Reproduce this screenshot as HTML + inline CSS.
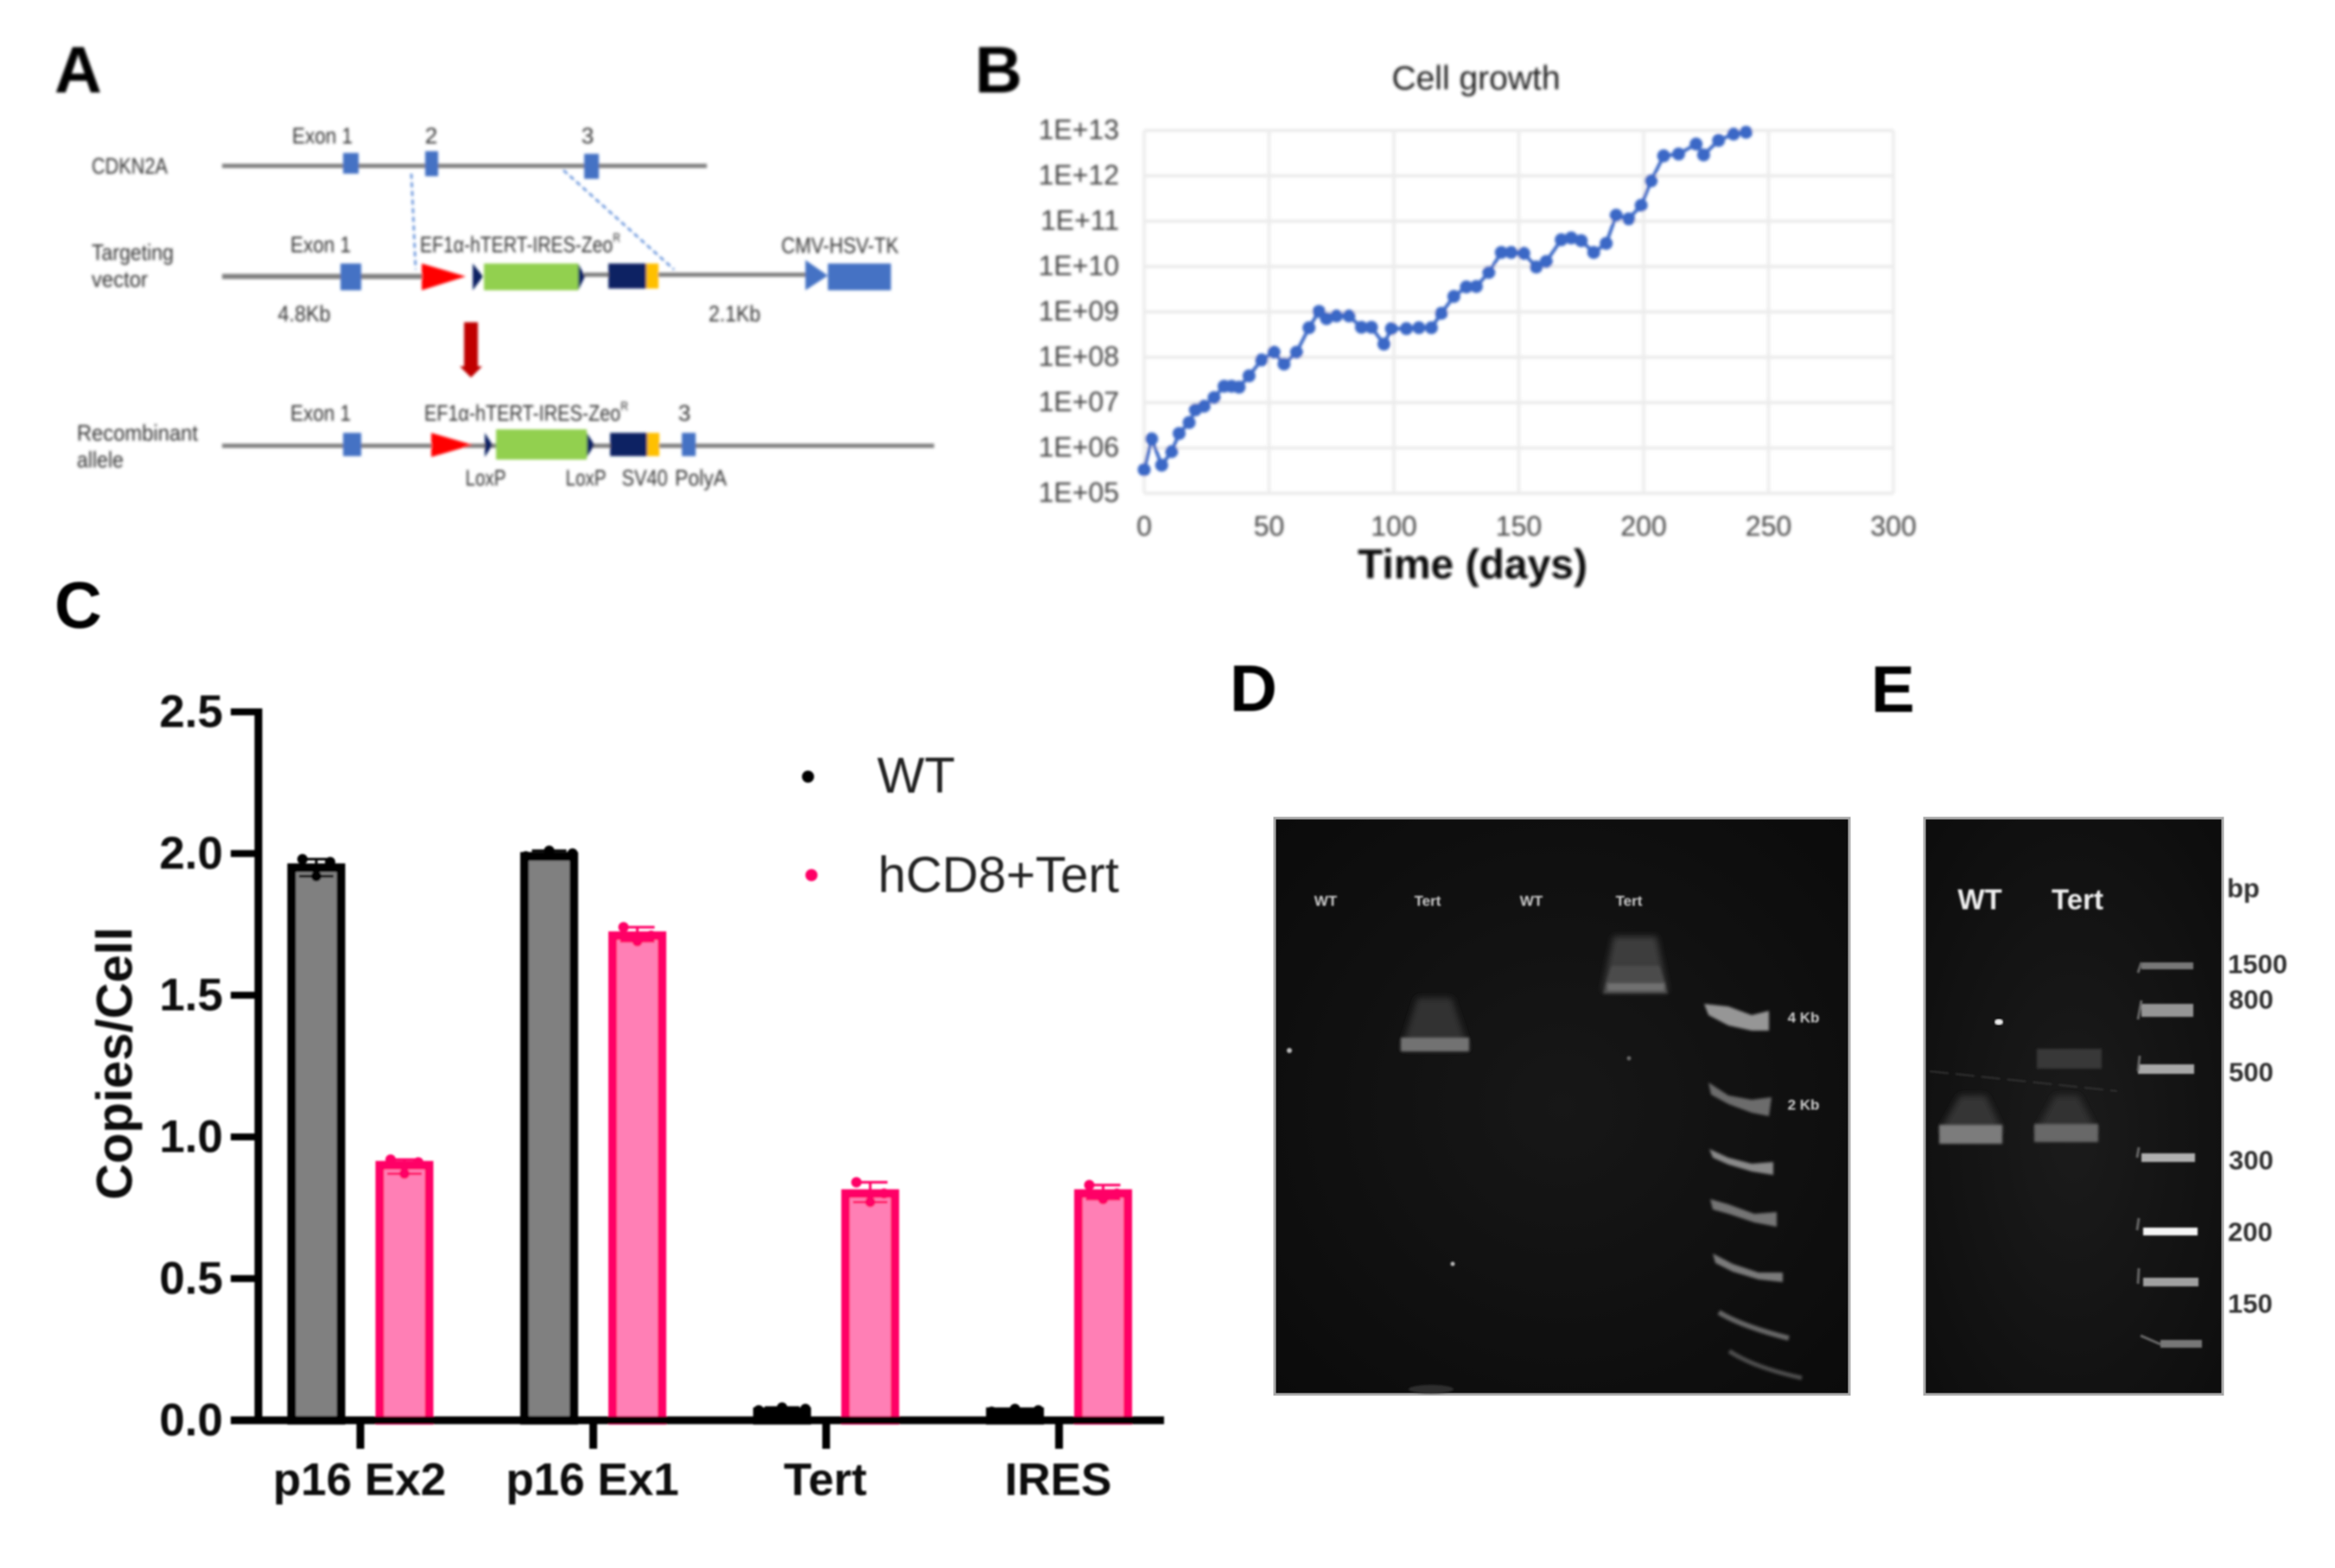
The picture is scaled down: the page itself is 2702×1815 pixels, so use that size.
<!DOCTYPE html>
<html lang="en">
<head>
<meta charset="utf-8">
<title>Figure panels A to E</title>
<style>
html,body{margin:0;padding:0;background:#fff;width:2702px;height:1815px;overflow:hidden}
svg{display:block}
text{font-family:"Liberation Sans",sans-serif}
.letter{font-size:76px;font-weight:700;fill:#000}
.a-lbl{font-size:26px;fill:#333;text-anchor:middle;dominant-baseline:central}
.a-lbl-l{font-size:26px;fill:#333;text-anchor:start;dominant-baseline:central}
.b-tick{font-size:32px;fill:#444;dominant-baseline:central}
.c-tick{font-size:53px;font-weight:700;fill:#111;dominant-baseline:central}
.gel-d{font-size:17px;font-weight:700;fill:#ccc;text-anchor:middle;dominant-baseline:central}
.gel-e{font-size:33px;font-weight:700;fill:#eee;text-anchor:middle;dominant-baseline:central}
.e-lbl{font-size:31px;font-weight:700;fill:#333;dominant-baseline:central}
</style>
</head>
<body>
<svg id="fig" xmlns="http://www.w3.org/2000/svg" width="2702" height="1815" viewBox="0 0 2702 1815">
<defs>
<filter id="soft" x="-5%" y="-5%" width="110%" height="110%"><feGaussianBlur stdDeviation="1.5"/></filter>
<filter id="softer" x="-5%" y="-5%" width="110%" height="110%"><feGaussianBlur stdDeviation="1"/></filter>
<filter id="bandblur" x="-20%" y="-40%" width="140%" height="180%"><feGaussianBlur stdDeviation="1.7"/></filter>
<filter id="smearblur" x="-20%" y="-40%" width="140%" height="180%"><feGaussianBlur stdDeviation="4"/></filter>
<radialGradient id="gelD" cx="50%" cy="50%" r="70%"><stop offset="0" stop-color="#171717"/><stop offset="1" stop-color="#0b0b0b"/></radialGradient>
<radialGradient id="gelE" cx="50%" cy="55%" r="70%"><stop offset="0" stop-color="#1b1b1b"/><stop offset="1" stop-color="#0d0d0d"/></radialGradient>
</defs>
<rect width="2702" height="1815" fill="#fff"/>

<g filter="url(#soft)">
  <text class="letter" x="63" y="107">A</text>
  <text class="a-lbl-l" x="106" y="192" textLength="88" lengthAdjust="spacingAndGlyphs">CDKN2A</text>
  <line x1="257" y1="192" x2="818" y2="192" stroke="#808080" stroke-width="5"/>
  <rect x="397" y="177" width="18" height="24" fill="#4472c4"/>
  <rect x="492" y="175" width="15" height="29" fill="#4472c4"/>
  <rect x="676" y="178" width="17" height="29" fill="#4472c4"/>
  <text class="a-lbl" x="373" y="157" textLength="70" lengthAdjust="spacingAndGlyphs">Exon 1</text>
  <text class="a-lbl" x="499" y="157">2</text>
  <text class="a-lbl" x="680" y="157">3</text>
  <line x1="476" y1="201" x2="481" y2="312" stroke="#5b8bd8" stroke-width="2.5" stroke-dasharray="6 4"/>
  <line x1="652" y1="197" x2="780" y2="312" stroke="#5b8bd8" stroke-width="2.5" stroke-dasharray="6 4"/>

  <text class="a-lbl-l" x="106" y="292" textLength="95" lengthAdjust="spacingAndGlyphs">Targeting</text>
  <text class="a-lbl-l" x="106" y="323" textLength="65" lengthAdjust="spacingAndGlyphs">vector</text>
  <line x1="257" y1="320" x2="500" y2="320" stroke="#808080" stroke-width="6"/>
  <line x1="676" y1="318" x2="934" y2="318" stroke="#808080" stroke-width="5"/>
  <rect x="394" y="305" width="24" height="31" fill="#4472c4"/>
  <polygon points="488,305 539,320 488,336" fill="#ff0000"/>
  <polygon points="547,305 559,320 547,336" fill="#0b2463"/>
  <rect x="560" y="305" width="109" height="31" fill="#92d050"/>
  <polygon points="669,305 677,320 669,336" fill="#0b2463"/>
  <rect x="704" y="305" width="44" height="29" fill="#0b2463"/>
  <rect x="748" y="305" width="14" height="29" fill="#ffc000"/>
  <polygon points="932,301 958,319 932,336" fill="#4472c4"/>
  <rect x="958" y="305" width="73" height="31" fill="#4472c4"/>
  <text class="a-lbl" x="371" y="283" textLength="70" lengthAdjust="spacingAndGlyphs">Exon 1</text>
  <text class="a-lbl" x="602" y="283" textLength="232" lengthAdjust="spacingAndGlyphs">EF1α-hTERT-IRES-Zeo<tspan font-size="15" dy="-8">R</tspan></text>
  <text class="a-lbl" x="972" y="284" textLength="136" lengthAdjust="spacingAndGlyphs">CMV-HSV-TK</text>
  <text class="a-lbl" x="352" y="363" textLength="61" lengthAdjust="spacingAndGlyphs">4.8Kb</text>
  <text class="a-lbl" x="850" y="363" textLength="60" lengthAdjust="spacingAndGlyphs">2.1Kb</text>

  <polygon points="537,373 553,373 553,424 558,424 545,437 532,424 537,424" fill="#c00000"/>

  <text class="a-lbl-l" x="89" y="501" textLength="140" lengthAdjust="spacingAndGlyphs">Recombinant</text>
  <text class="a-lbl-l" x="89" y="532" textLength="54" lengthAdjust="spacingAndGlyphs">allele</text>
  <line x1="257" y1="516" x2="1081" y2="516" stroke="#808080" stroke-width="5"/>
  <rect x="397" y="501" width="21" height="27" fill="#4472c4"/>
  <polygon points="499,501 547,515 499,529" fill="#ff0000"/>
  <polygon points="561,501 570,515 561,529" fill="#0b2463"/>
  <rect x="574" y="497" width="105" height="35" fill="#92d050"/>
  <polygon points="679,501 688,515 679,529" fill="#0b2463"/>
  <rect x="706" y="501" width="43" height="27" fill="#0b2463"/>
  <rect x="749" y="501" width="14" height="27" fill="#ffc000"/>
  <rect x="789" y="501" width="16" height="27" fill="#4472c4"/>
  <text class="a-lbl" x="371" y="478" textLength="70" lengthAdjust="spacingAndGlyphs">Exon 1</text>
  <text class="a-lbl" x="609" y="478" textLength="236" lengthAdjust="spacingAndGlyphs">EF1α-hTERT-IRES-Zeo<tspan font-size="15" dy="-8">R</tspan></text>
  <text class="a-lbl" x="792" y="478">3</text>
  <text class="a-lbl" x="562" y="553" textLength="47" lengthAdjust="spacingAndGlyphs">LoxP</text>
  <text class="a-lbl" x="678" y="553" textLength="47" lengthAdjust="spacingAndGlyphs">LoxP</text>
  <text class="a-lbl" x="746" y="553" textLength="53" lengthAdjust="spacingAndGlyphs">SV40</text>
  <text class="a-lbl" x="811" y="553" textLength="60" lengthAdjust="spacingAndGlyphs">PolyA</text>
</g>

<g id="panelB" filter="url(#soft)">
  <text class="letter" x="1128" y="107">B</text>
  <text x="1708" y="91" text-anchor="middle" dominant-baseline="central" font-size="39" fill="#222">Cell growth</text>
  <text x="1704" y="654" text-anchor="middle" dominant-baseline="central" font-size="48" font-weight="700" fill="#111">Time (days)</text>
</g>

<g id="panelC" filter="url(#softer)">
  <text class="letter" x="63" y="727">C</text>
  <text transform="translate(133 1231) rotate(-90)" text-anchor="middle" dominant-baseline="central" font-size="58" font-weight="700" fill="#111">Copies/Cell</text>
</g>

<g>
  <text class="letter" x="1423" y="823" filter="url(#softer)">D</text>
  <rect x="1475" y="947" width="665" height="667" fill="url(#gelD)" stroke="#a8a8a8" stroke-width="3"/>
  <g filter="url(#softer)">
    <text class="gel-d" x="1534" y="1043">WT</text>
    <text class="gel-d" x="1652" y="1043">Tert</text>
    <text class="gel-d" x="1772" y="1043">WT</text>
    <text class="gel-d" x="1885" y="1043">Tert</text>
    <text class="gel-d" x="2087" y="1178">4 Kb</text>
    <text class="gel-d" x="2087" y="1279">2 Kb</text>
  </g>
  <polygon points="1621,1215 1640,1155 1680,1155 1700,1215" fill="#333" filter="url(#smearblur)"/>
  <rect x="1621" y="1201" width="79" height="16" fill="#727272" filter="url(#bandblur)"/>
  <polygon points="1854,1148 1867,1084 1917,1084 1930,1148" fill="#3e3e3e" filter="url(#smearblur)"/>
  <polygon points="1855,1150 1865,1118 1920,1118 1930,1150" fill="#4c4c4c" filter="url(#bandblur)"/>
  <rect x="1860" y="1138" width="66" height="9" fill="#707070" filter="url(#bandblur)"/>
  <g filter="url(#bandblur)">
    <polygon points="1972,1162 2000,1165 2027,1175 2047,1170 2047,1193 2027,1193 2000,1187 1977,1175" fill="#969696"/>
    <polygon points="1977,1253 2000,1268 2027,1273 2050,1270 2047,1292 2027,1288 2000,1278 1980,1267" fill="#6c6c6c"/>
    <polygon points="1978,1330 2000,1340 2027,1347 2052,1345 2052,1360 2027,1356 2000,1348 1982,1340" fill="#8a8a8a"/>
    <polygon points="1979,1388 2000,1394 2030,1405 2056,1403 2056,1420 2030,1415 2000,1405 1982,1400" fill="#747474"/>
    <polygon points="1982,1451 2005,1463 2035,1473 2063,1473 2063,1484 2035,1481 2005,1472 1985,1462" fill="#7a7a7a"/>
    <path d="M1989 1519 Q2015 1535 2070 1549" fill="none" stroke="#666" stroke-width="6"/>
    <path d="M2001 1564 Q2030 1583 2085 1595" fill="none" stroke="#4e4e4e" stroke-width="5"/>
  </g>
  <g fill="#bbb" filter="url(#softer)">
    <circle cx="1492" cy="1216" r="3"/>
    <circle cx="1681" cy="1463" r="2.5"/>
    <circle cx="1885" cy="1225" r="2.5" fill="#666"/>
    <ellipse cx="1656" cy="1608" rx="26" ry="5" fill="#2e2e2e"/>
  </g>
</g>

<g>
  <text class="letter" x="2165" y="824" filter="url(#softer)">E</text>
  <rect x="2227" y="947" width="345" height="667" fill="url(#gelE)" stroke="#a8a8a8" stroke-width="3"/>
  <text class="gel-e" x="2291" y="1041" filter="url(#softer)">WT</text>
  <text class="gel-e" x="2404" y="1041" filter="url(#softer)">Tert</text>
  <polygon points="2244,1310 2268,1268 2298,1268 2318,1310" fill="#343434" filter="url(#smearblur)"/>
  <rect x="2244" y="1302" width="73" height="22" fill="#7c7c7c" filter="url(#bandblur)"/>
  <polygon points="2355,1310 2378,1268 2405,1268 2427,1310" fill="#303030" filter="url(#smearblur)"/>
  <rect x="2354" y="1301" width="74" height="21" fill="#686868" filter="url(#bandblur)"/>
  <rect x="2357" y="1214" width="75" height="23" fill="#383838" filter="url(#bandblur)"/>
  <line x1="2233" y1="1240" x2="2450" y2="1263" stroke="#333" stroke-width="2" stroke-dasharray="22 8" filter="url(#softer)"/>
  <g filter="url(#softer)">
    <rect x="2478" y="1114" width="60" height="8" fill="#787878"/>
    <rect x="2478" y="1162" width="60" height="15" fill="#959595"/>
    <rect x="2474" y="1232" width="65" height="11" fill="#a8a8a8"/>
    <rect x="2478" y="1335" width="62" height="10" fill="#b0b0b0"/>
    <rect x="2480" y="1421" width="63" height="9" fill="#f6f6f6"/>
    <rect x="2480" y="1479" width="64" height="10" fill="#a0a0a0"/>
    <rect x="2500" y="1551" width="48" height="9" fill="#777"/>
    <path d="M2474 1126 L2478 1114 M2474 1180 L2478 1158 M2474 1240 L2476 1222 M2473 1340 L2475 1328 M2473 1424 L2475 1410 M2474 1486 L2475 1468 M2477 1546 L2500 1556" fill="none" stroke="#666" stroke-width="3"/>
  </g>
  <ellipse cx="2313" cy="1183" rx="5" ry="3.5" fill="#eee" filter="url(#softer)"/>
  <g filter="url(#softer)">
    <text class="e-lbl" x="2577" y="1028">bp</text>
    <text class="e-lbl" x="2578" y="1116">1500</text>
    <text class="e-lbl" x="2579" y="1157">800</text>
    <text class="e-lbl" x="2579" y="1241">500</text>
    <text class="e-lbl" x="2579" y="1343">300</text>
    <text class="e-lbl" x="2578" y="1426">200</text>
    <text class="e-lbl" x="2578" y="1509">150</text>
  </g>
</g>
</svg>

<script>
// Panel B: cell growth data
const growthDays = [0,3,7,11,14,18,20.5,24,28,32,35,38,42,47,52,56,61,66,70,73,77,82,87,91,96,99,105,110,115,119,124,129,133,138,143,147,152,157,161,167,171,175,180,185,189,194,199,203,208,214,221,224,230,236,241];
const growthLog10Cells = [5.52,6.20,5.62,5.92,6.32,6.56,6.84,6.92,7.11,7.36,7.36,7.34,7.59,7.94,8.11,7.85,8.11,8.65,9.01,8.85,8.91,8.91,8.66,8.66,8.29,8.63,8.63,8.65,8.65,8.97,9.34,9.55,9.56,9.87,10.31,10.31,10.29,9.99,10.11,10.59,10.63,10.57,10.31,10.51,11.13,11.05,11.35,11.89,12.44,12.48,12.70,12.46,12.78,12.92,12.96];
const growthXTicks = [0,50,100,150,200,250,300];
const growthYTickExponents = [5,6,7,8,9,10,11,12,13];
const growthYTickLabels = ['1E+05','1E+06','1E+07','1E+08','1E+09','1E+10','1E+11','1E+12','1E+13'];

// Panel C: qPCR copies per cell
const copyCategories = ['p16 Ex2','p16 Ex1','Tert','IRES'];
const wtMeans = [1.95,1.99,0.03,0.03];
const tertMeans = [0.90,1.71,0.80,0.80];
const wtReplicates = [[1.98,1.92,1.97],[1.99,2.01,2.00],[0.035,0.045,0.04],[0.03,0.04,0.035]];
const tertReplicates = [[0.92,0.87,0.91],[1.74,1.69,1.71],[0.84,0.77,0.80],[0.83,0.78,0.80]];
const copyYTicks = [0,0.5,1,1.5,2,2.5];
const copyYTickLabels = ['0.0','0.5','1.0','1.5','2.0','2.5'];
const legendLabels = ['WT','hCD8+Tert'];

const NS = 'http://www.w3.org/2000/svg';
function make(parent, tag, attrs, txt) {
  const el = document.createElementNS(NS, tag);
  for (const k in attrs) el.setAttribute(k, attrs[k]);
  if (txt !== undefined) el.textContent = txt;
  parent.appendChild(el);
  return el;
}

/* Panel B axes */
const bLeft = 1324, bRight = 2191, bTop = 151, bBottom = 571;
function growthX(d) { return bLeft + (d - 0) / 300 * (bRight - bLeft); }
function growthY(e) { return bBottom - (e - 5) / 8 * (bBottom - bTop); }

const panelB = document.getElementById('panelB');
growthYTickExponents.forEach(function (e, i) {
  const grid = make(panelB, 'line', {x1: bLeft, x2: bRight, y1: growthY(e), y2: growthY(e), stroke: '#ececec', 'stroke-width': 4});
  
  
  const lab = make(panelB, 'text', {x: 1295, y: growthY(e) - 1, 'text-anchor': 'end', class: 'b-tick'}, growthYTickLabels[i]);
  
  
});
growthXTicks.forEach(function (d) {
  const grid = make(panelB, 'line', {x1: growthX(d), x2: growthX(d), y1: bTop, y2: bBottom, stroke: '#ececec', 'stroke-width': 3.5});
  
  
  const lab = make(panelB, 'text', {x: growthX(d), y: 609, 'text-anchor': 'middle', class: 'b-tick'}, String(d));
  
  
});
const growthPoints = growthDays.map(function (d, i) { return growthX(d) + ',' + growthY(growthLog10Cells[i]); }).join(' ');
const growthLine = make(panelB, 'polyline', {points: growthPoints, fill: 'none', stroke: '#3a68c6', 'stroke-width': 4});


growthDays.forEach(function (d, i) {
  const pt = make(panelB, 'circle', {cx: growthX(d), cy: growthY(growthLog10Cells[i]), r: 7.5, fill: '#3a68c6'});
  
  
});

/* Panel C axes */
const cBase = 1644, cUnit = 328, cAxisX = 299;
const cGroupStart = 417, cGroupStep = 269.5, cBarOffset = 51, cBarWidth = 57;
function copyY(v) { return cBase - v * cUnit; }
function groupX(i) { return cGroupStart + i * cGroupStep; }

const panelC = document.getElementById('panelC');
const wtStroke = '#000', wtFill = '#808080', tertStroke = '#ff0066', tertFill = '#ff7fb5';

function drawBars(means, reps, offset, fill, stroke, label) {
  means.forEach(function (v, i) {
    const cx = groupX(i) + offset;
    const bar = make(panelC, 'rect', {x: cx - cBarWidth / 2, y: copyY(v), width: cBarWidth, height: cBase - copyY(v), fill: fill, stroke: stroke, 'stroke-width': 10});
    
    
    const hi = Math.max.apply(null, reps[i]), lo = Math.min.apply(null, reps[i]);
    const spread = (hi - lo) < 0.03 ? 27 : 16;
    const err = make(panelC, 'path', {d: 'M' + (cx - 20) + ' ' + copyY(hi) + 'H' + (cx + 20) + 'M' + cx + ' ' + copyY(hi) + 'V' + copyY(lo) + 'M' + (cx - 20) + ' ' + copyY(lo) + 'H' + (cx + 20), stroke: stroke, 'stroke-width': 3, fill: 'none'});
    
    
    reps[i].forEach(function (r, j) {
      const dot = make(panelC, 'circle', {cx: cx + (j - 1) * spread, cy: copyY(r), r: 6, fill: stroke});
      
      
    });
  });
}
drawBars(wtMeans, wtReplicates, -cBarOffset, wtFill, wtStroke, 'wt');
drawBars(tertMeans, tertReplicates, cBarOffset, tertFill, tertStroke, 'tert');

const yAxisC = make(panelC, 'line', {x1: cAxisX, x2: cAxisX, y1: copyY(2.5) - 4, y2: cBase + 4, stroke: '#000', 'stroke-width': 9});


const xAxisC = make(panelC, 'line', {x1: 267, x2: 1347, y1: cBase, y2: cBase, stroke: '#000', 'stroke-width': 9});


copyYTicks.forEach(function (v, i) {
  const tick = make(panelC, 'line', {x1: 267, x2: cAxisX, y1: copyY(v), y2: copyY(v), stroke: '#000', 'stroke-width': 8});
  
  
  const lab = make(panelC, 'text', {x: 258, y: copyY(v), 'text-anchor': 'end', class: 'c-tick'}, copyYTickLabels[i]);
  
  
});
copyCategories.forEach(function (c, i) {
  const tick = make(panelC, 'line', {x1: groupX(i), x2: groupX(i), y1: cBase, y2: 1677, stroke: '#000', 'stroke-width': 9});
  
  
  const lab = make(panelC, 'text', {x: groupX(i) - 1, y: 1713, 'text-anchor': 'middle', 'dominant-baseline': 'central', 'font-size': 53, 'font-weight': 700, fill: '#111'}, c);
  
  
});

const legendWtDot = make(panelC, 'circle', {cx: 935, cy: 899, r: 7, fill: wtStroke});


const legendWtText = make(panelC, 'text', {x: 1015, y: 898, 'dominant-baseline': 'central', 'font-size': 58, fill: '#222'}, legendLabels[0]);


const legendTertDot = make(panelC, 'circle', {cx: 939, cy: 1013, r: 7, fill: tertStroke});


const legendTertText = make(panelC, 'text', {x: 1016, y: 1013, 'dominant-baseline': 'central', 'font-size': 58, fill: '#222'}, legendLabels[1]);


</script>
</body>
</html>
